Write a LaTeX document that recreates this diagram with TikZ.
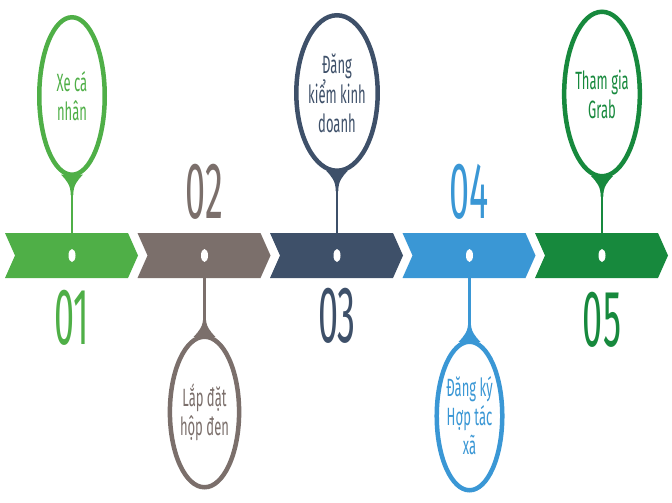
\documentclass[tikz,border=0pt]{standalone}
\usepackage{fontspec}
\usepackage{graphicx}
\setmainfont{Fira Sans}
\usetikzlibrary{shapes.geometric,calc}
\definecolor{cgreen}{RGB}{79,175,71}
\definecolor{cgray}{RGB}{123,111,107}
\definecolor{cnavy}{RGB}{62,80,105}
\definecolor{cblue}{RGB}{58,151,213}
\definecolor{cdgreen}{RGB}{23,137,61}
\def\nar#1{\scalebox{0.52}[1]{#1}}
\def\narn#1{\scalebox{0.45}[1]{#1}}
% chevron: left x, colour
\newcommand{\chev}[2]{\fill[#2] (#1,233) -- ++(123,0) -- ++(10,22.5) -- ++(-10,22.5) -- ++(-123,0) -- ++(10,-22.5) -- cycle;}
% drop between ring and stem: anchor, direction, colour
\newcommand{\flare}[3]{\fill[#3,shift={(#1)},yscale=#2] (-11,-2.5) .. controls (-5,4) and (-1.3,8) .. (-1.3,18) -- (1.3,18) .. controls (1.3,8) and (5,4) .. (11,-2.5) -- cycle;}

\begin{document}
\begin{tikzpicture}[x=1pt,y=-1pt,
  balloon/.style={ellipse,draw=#1,fill=white,line width=4.5pt,inner sep=0pt,
    text=#1,align=center,font=\fontsize{25}{29}\selectfont},
  hole/.style={ellipse,fill=white,minimum width=7pt,minimum height=13pt,inner sep=0pt},
  stem/.style={#1,line width=2.6pt},
  num/.style={text=#1,inner sep=0pt,font=\fontsize{80}{80}\selectfont}]
  \useasboundingbox (0,0) rectangle (672,503);
  \chev{5}{cgreen}
  \chev{137.5}{cgray}
  \chev{270}{cnavy}
  \chev{402.5}{cblue}
  \chev{535}{cdgreen}
  \node[hole] (d1) at (72,255.5) {};
  \node[hole] (d2) at (204.5,255.5) {};
  \node[hole] (d3) at (337,255.5) {};
  \node[hole] (d4) at (469.5,255.5) {};
  \node[hole] (d5) at (602,255.5) {};
  % balloons
  \node[balloon=cgreen,minimum width=65.5pt,minimum height=157.5pt] (b1) at (72,96) {\nar{Xe cá}\\\nar{nhân}};
  \node[balloon=cgray,minimum width=59.5pt,minimum height=150.5pt] (b2) at (204.5,412) {\nar{Lắp đặt}\\\nar{hộp đen}};
  \node[balloon=cnavy,minimum width=59.5pt,minimum height=155.5pt] (b3) at (337,93) {\nar{Đăng}\\\nar{kiểm kinh}\\\nar{doanh}};
  \node[balloon=cblue,minimum width=59.5pt,minimum height=148.5pt] (b4) at (469.5,416) {\nar{Đăng ký}\\\nar{Hợp tác}\\\nar{xã}};
  \node[balloon=cdgreen,minimum width=62.5pt,minimum height=164.5pt] (b5) at (602,94) {\nar{Tham gia}\\\nar{Grab}};
  \flare{b1.south}{1}{cgreen}
  \flare{b2.north}{-1}{cgray}
  \flare{b3.south}{1}{cnavy}
  \flare{b4.north}{-1}{cblue}
  \flare{b5.south}{1}{cdgreen}
  \draw[stem=cgreen] (b1.south) -- (d1);
  \draw[stem=cgray] (b2.north) -- (d2);
  \draw[stem=cnavy] (b3.south) -- (d3);
  \draw[stem=cblue] (b4.north) -- (d4);
  \draw[stem=cdgreen] (b5.south) -- (d5);
  % numbers
  \node[num=cgreen] (n1) at (72,318) {\narn{01}};
  \node[num=cgray] (n2) at (204.5,192) {\narn{02}};
  \node[num=cnavy] (n3) at (337,316) {\narn{03}};
  \node[num=cblue] (n4) at (469.5,192) {\narn{04}};
  \node[num=cdgreen] (n5) at (602,320) {\narn{05}};
\end{tikzpicture}
\end{document}
